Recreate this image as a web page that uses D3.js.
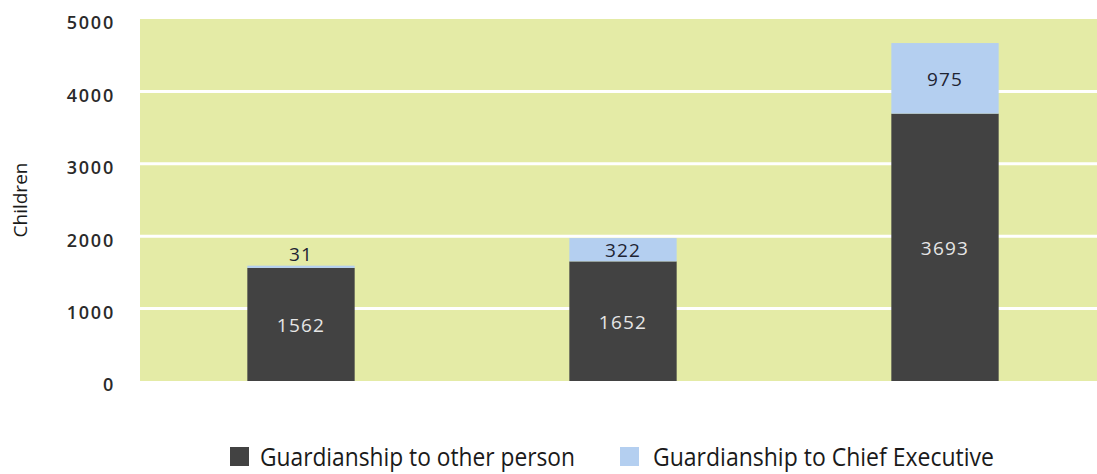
<!DOCTYPE html>
<html>
<head>
<meta charset="utf-8">
<script src="https://cdn.jsdelivr.net/npm/d3@7"></script>
<style>
  body { margin: 0; background: #fff; }
  svg { display: block; font-family: "Open Sans", sans-serif; }
</style>
</head>
<body>
<div id="chart"></div>
<script>
// data
const categories = ["A", "B", "C"];
const otherPerson = [1562, 1652, 3693];
const chiefExec = [31, 322, 975];
const seriesNames = ["Guardianship to other person", "Guardianship to Chief Executive"];
const yTicks = [0, 1000, 2000, 3000, 4000, 5000];

const width = 1097;
const height = 474;
const margin = { top: 19, right: -9, bottom: 93, left: 140 };

const colors = ["#424242", "#b4cff0"];

const svg = d3.select("#chart").append("svg")
    .attr("width", width)
    .attr("height", height);

// scales
const x = d3.scaleBand()
    .domain(categories)
    .range([margin.left, width - margin.right])
    .paddingInner(2 / 3)
    .paddingOuter(1 / 3);

const y = d3.scaleLinear()
    .domain([0, 5000])
    .range([height - margin.bottom, margin.top]);

// plot background
svg.append("rect")
    .attr("x", margin.left)
    .attr("y", y(5000))
    .attr("width", width - margin.right - margin.left)
    .attr("height", y(0) - y(5000))
    .attr("fill", "#e4eba6");

// white gridlines
svg.append("g")
    .selectAll("line")
    .data(yTicks.filter(d => d > 0 && d < 5000))
    .join("line")
    .attr("x1", margin.left)
    .attr("x2", width - margin.right)
    .attr("y1", d => y(d))
    .attr("y2", d => y(d))
    .attr("stroke", "#fff")
    .attr("stroke-width", 3);

// y axis labels
const yAxis = svg.append("g")
    .attr("transform", `translate(${margin.left - 25},0)`)
    .call(d3.axisLeft(y).tickValues(yTicks).tickSize(0).tickPadding(0).tickFormat(d3.format("d")));
yAxis.select(".domain").remove();
yAxis.selectAll("text")
    .attr("dy", "0.55em")
    .attr("font-size", 18)
    .attr("font-weight", 600)
    .attr("letter-spacing", 1.8)
    .attr("font-family", "Open Sans, sans-serif")
    .attr("fill", "#2a2a2a");

// y title
svg.append("text")
    .attr("transform", "translate(27,200) rotate(-90)")
    .attr("text-anchor", "middle")
    .attr("font-size", 19)
    .attr("fill", "#1a1a1a")
    .text("Children");

// stacked bars
const table = categories.map((c, i) => ({ cat: c, other: otherPerson[i], chief: chiefExec[i] }));
const stack = d3.stack().keys(["other", "chief"])(table);

stack.forEach((layer, li) => {
    const g = svg.append("g");
    g.selectAll("rect")
        .data(layer)
        .join("rect")
        .attr("x", d => x(d.data.cat))
        .attr("y", d => y(d[1]))
        .attr("width", x.bandwidth())
        .attr("height", d => y(d[0]) - y(d[1]))
        .attr("fill", colors[li]);

    g.selectAll("text")
        .data(layer)
        .join("text")
        .attr("x", d => x(d.data.cat) + x.bandwidth() / 2)
        .attr("y", d => {
            const h = y(d[0]) - y(d[1]);
            if (h < 16) return y(d[1]) - 12;
            return (y(d[0]) + y(d[1])) / 2;
        })
        .attr("dy", "0.4em")
        .attr("text-anchor", "middle")
        .attr("font-size", 19)
        .attr("font-weight", 500)
        .attr("letter-spacing", 1.2)
        .attr("fill", li === 0 ? "#e6e6e6" : "#1e2433")
        .text(d => d[1] - d[0]);
});

// legend
const legend = svg.append("g");
const legendItems = [
    { sx: 230, tx: 260, len: 315 },
    { sx: 620, tx: 653, len: 341 }
];
legendItems.forEach((it, i) => {
    legend.append("rect")
        .attr("x", it.sx)
        .attr("y", 447)
        .attr("width", 19)
        .attr("height", 19)
        .attr("fill", colors[i]);
    legend.append("text")
        .attr("x", it.tx)
        .attr("y", 466)
        .attr("font-size", 25)
        .attr("font-weight", 500)
        .attr("fill", "#1a1a1a")
        .attr("textLength", it.len)
        .attr("lengthAdjust", "spacingAndGlyphs")
        .text(seriesNames[i]);
});
</script>
</body>
</html>
